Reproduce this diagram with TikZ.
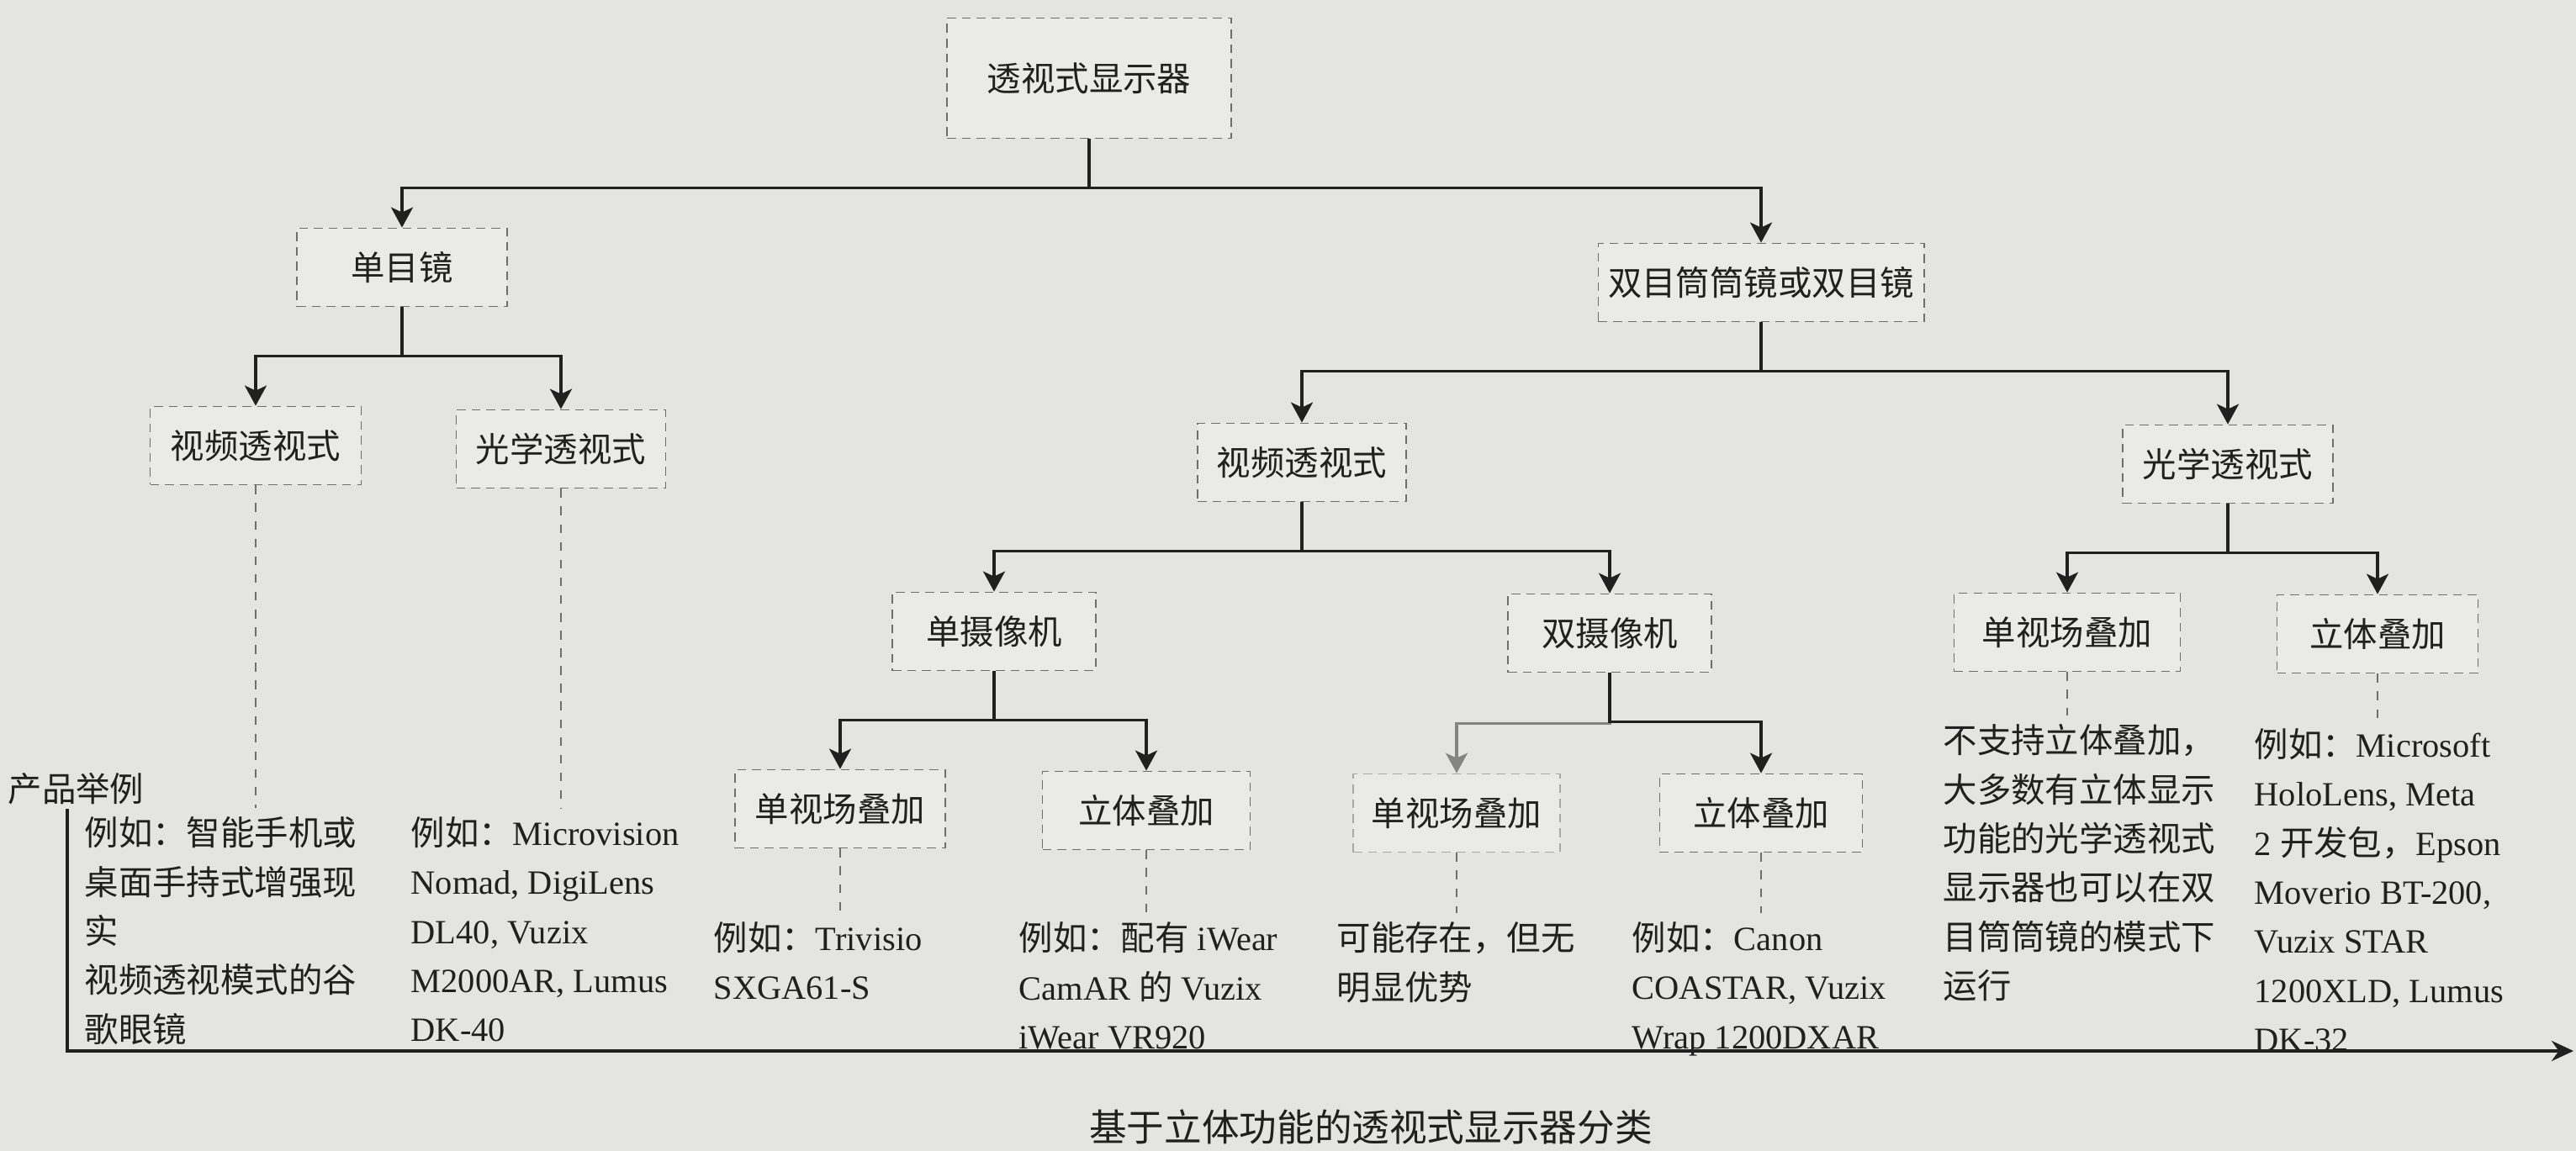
\documentclass[tikz,border=0pt]{standalone}
\usepackage{fontspec}
\setmainfont{Liberation Serif}
\newfontfamily\cjk{Noto Sans CJK SC}
\usepackage{xcolor}
\usepackage{tikz}
\usetikzlibrary{arrows.meta,positioning,calc}

\definecolor{paper}{RGB}{228,228,226}
\definecolor{boxfill}{RGB}{234,234,232}
\definecolor{boxline}{RGB}{110,110,110}
\definecolor{ink}{RGB}{32,32,32}
\newcommand{\zh}[1]{{\cjk #1}}
\newcommand{\notesize}{\fontsize{11.5}{16.6}\selectfont}
\newcommand{\boxsize}{\fontsize{11.5}{14}\selectfont}

\begin{document}
\begin{tikzpicture}[
    cls/.style={draw=boxline, densely dashed, fill=boxfill, line width=0.5pt,
      minimum height=0.93cm, text=ink, font=\cjk\boxsize},
    link/.style={draw=ink, line width=0.9pt,
      -{Stealth[length=2.4mm, width=2.6mm, inset=0.6mm]}},
    lead/.style={draw=boxline, dashed, line width=0.5pt, shorten >=1mm},
    note/.style={anchor=north west, align=left, inner sep=0pt, text=ink,
      font=\notesize}
  ]
    \fill[paper] (0,0) rectangle (30.63,-13.69);
    \useasboundingbox (0,0) rectangle (30.63,-13.69);

    \node[cls, minimum width=3.38cm, minimum height=1.43cm] (root) at (12.95,-0.93) {透视式显示器};
    \node[cls, minimum width=2.50cm] (mono) at (4.78,-3.18) {单目镜};
    \node[cls, minimum width=3.85cm] (bino) at (20.94,-3.36) {双目筒筒镜或双目镜};
    \node[cls, minimum width=2.51cm] (mvid) at (3.04,-5.30) {视频透视式};
    \node[cls, minimum width=2.49cm] (mopt) at (6.67,-5.34) {光学透视式};
    \node[cls, minimum width=2.48cm] (bvid) at (15.48,-5.50) {视频透视式};
    \node[cls, minimum width=2.50cm] (bopt) at (26.49,-5.52) {光学透视式};
    \node[cls, minimum width=2.42cm] (cam1) at (11.82,-7.51) {单摄像机};
    \node[cls, minimum width=2.42cm] (cam2) at (19.14,-7.53) {双摄像机};
    \node[cls, minimum width=2.69cm] (osgl) at (24.58,-7.52) {单视场叠加};
    \node[cls, minimum width=2.39cm] (oste) at (28.27,-7.54) {立体叠加};
    \node[cls, minimum width=2.50cm] (sgl1) at (9.99,-9.62) {单视场叠加};
    \node[cls, minimum width=2.47cm] (ste1) at (13.63,-9.64) {立体叠加};
    \node[cls, minimum width=2.46cm, draw=boxline!60] (sgl2) at (17.32,-9.67) {单视场叠加};
    \node[cls, minimum width=2.41cm] (ste2) at (20.94,-9.67) {立体叠加};

    \draw[link, draw=ink!55] (cam2.south) -- ++(0,-0.6) -| (sgl2.north);
    \foreach \p/\c in {root/mono, root/bino, mono/mvid, mono/mopt, bino/bvid,
      bino/bopt, bvid/cam1, bvid/cam2, bopt/osgl, bopt/oste, cam1/sgl1,
      cam1/ste1, cam2/ste2}
      \draw[link] (\p.south) -- ++(0,-0.58) -| (\c.north);

    \node[note] (nmvid) at (1.00,-9.71)
      {\zh{例如：智能手机或}\\ \zh{桌面手持式增强现}\\ \zh{实}\\
       \zh{视频透视模式的谷}\\ \zh{歌眼镜}};
    \node[note] (nmopt) at (4.88,-9.71)
      {\zh{例如：}Microvision\\ Nomad, DigiLens\\ DL40, Vuzix\\
       M2000AR, Lumus\\ DK-40};
    \node[note] (nsgl1) at (8.48,-10.96) {\zh{例如：}Trivisio\\ SXGA61-S};
    \node[note] (nste1) at (12.11,-10.96)
      {\zh{例如：配有} iWear\\ CamAR \zh{的} Vuzix\\ iWear VR920};
    \node[note] (nsgl2) at (15.89,-10.96) {\zh{可能存在，但无}\\ \zh{明显优势}};
    \node[note] (nste2) at (19.40,-10.96)
      {\zh{例如：}Canon\\ COASTAR, Vuzix\\ Wrap 1200DXAR};
    \node[note] (nosgl) at (23.10,-8.61)
      {\zh{不支持立体叠加，}\\ \zh{大多数有立体显示}\\ \zh{功能的光学透视式}\\
       \zh{显示器也可以在双}\\ \zh{目筒筒镜的模式下}\\ \zh{运行}};
    \node[note] (noste) at (26.80,-8.66)
      {\zh{例如：}Microsoft\\ HoloLens, Meta\\ 2 \zh{开发包，}Epson\\
       Moverio BT-200,\\ Vuzix STAR\\ 1200XLD, Lumus\\ DK-32};

    \foreach \b/\n in {mvid/nmvid, mopt/nmopt, sgl1/nsgl1, ste1/nste1,
      sgl2/nsgl2, ste2/nste2, osgl/nosgl, oste/noste}
      \draw[lead] (\b.south) -- (\b.south |- \n.north);

    \node[anchor=west, inner sep=0pt, text=ink, font=\cjk\notesize] (tag) at (0.09,-9.38) {产品举例};
    \coordinate (ax0) at (0.80,-9.62);
    \coordinate (ax1) at (0.80,-12.50);
    \coordinate (ax2) at (30.60,-12.50);
    \draw[draw=ink, line width=1.1pt, -{Stealth[length=2.6mm, width=2.4mm]}]
      (ax0) -- (ax1) -- (ax2);

    \node[text=ink, font=\cjk\fontsize{12.7}{15}\selectfont] (title) at (16.30,-13.40)
      {基于立体功能的透视式显示器分类};
  \end{tikzpicture}
\end{document}
